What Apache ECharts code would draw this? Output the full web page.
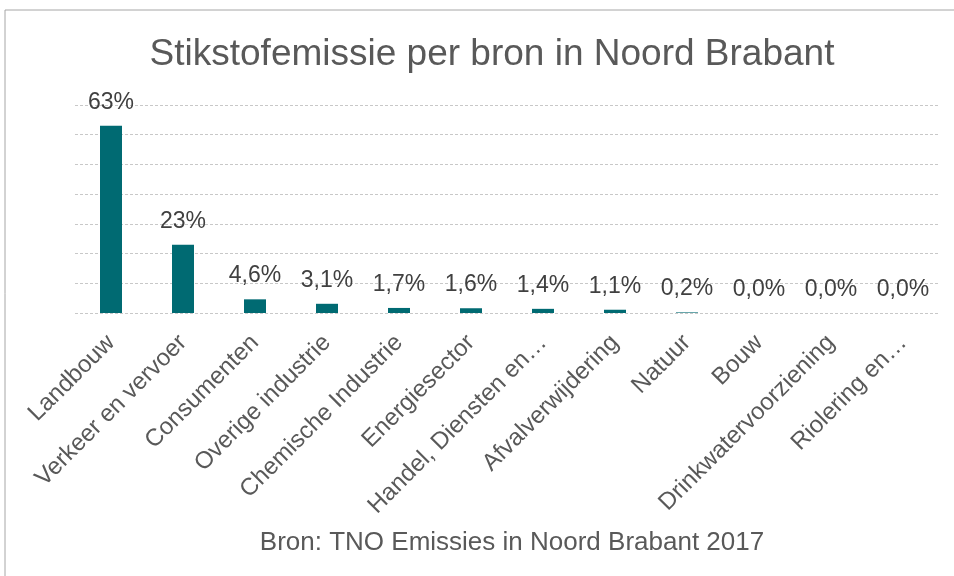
<!DOCTYPE html>
<html>
<head>
<meta charset="utf-8">
<script src="https://cdn.jsdelivr.net/npm/echarts@6/dist/echarts.min.js"></script>
<style>
  html, body { margin: 0; padding: 0; background: #fff; }
  #chart { width: 954px; height: 576px; }
</style>
</head>
<body>
<div id="chart"></div>
<script>
// bronnen en aandeel in de stikstofemissie (%)
const bronnen = ['Landbouw', 'Verkeer en vervoer', 'Consumenten', 'Overige industrie',
  'Chemische Industrie', 'Energiesector', 'Handel, Diensten en…', 'Afvalverwijdering',
  'Natuur', 'Bouw', 'Drinkwatervoorziening', 'Riolering en…']
const aandeel = [63, 23, 4.6, 3.1, 1.7, 1.6, 1.4, 1.1, 0.2, 0.0, 0.0, 0.0]

const fmt = v => v >= 10 ? Math.round(v) + '%' : v.toFixed(1).replace('.', ',') + '%'

const chart = echarts.init(document.getElementById('chart'))
const option = {
  animation: false,
  title: [
    {
      text: 'Stikstofemissie per bron in Noord Brabant',
      left: 487,
      textAlign: 'center',
      top: 31,
      textStyle: { fontFamily: 'Liberation Sans', fontSize: 37, fontWeight: 'normal', color: '#595959' }
    },
    {
      text: 'Bron: TNO Emissies in Noord Brabant 2017',
      left: 507,
      textAlign: 'center',
      top: 525,
      textStyle: { fontFamily: 'Liberation Sans', fontSize: 26, fontWeight: 'normal', color: '#595959' }
    }
  ],
  graphic: [
    {
      type: 'rect',
      shape: { x: 5, y: 10, width: 1000, height: 700 },
      style: { fill: 'none', stroke: '#a6a6a6', lineWidth: 1 },
      silent: true
    }
  ],
  grid: { left: 75, right: 15, top: 105, bottom: 263, containLabel: false },
  xAxis: {
    type: 'category',
    data: bronnen,
    axisLine: { show: false },
    axisTick: { show: false },
    axisLabel: {
      rotate: 45,
      interval: 0,
      margin: 26,
      fontFamily: 'Liberation Sans',
      fontSize: 24,
      color: '#595959'
    }
  },
  yAxis: {
    type: 'value',
    min: 0,
    max: 70,
    interval: 10,
    axisLabel: { show: false },
    axisLine: { show: false },
    axisTick: { show: false },
    splitLine: { lineStyle: { color: '#c8c8c8', type: [3, 2], width: 1 } }
  },
  series: [
    {
      type: 'bar',
      data: aandeel,
      barWidth: 22,
      itemStyle: { color: '#006a72' },
      label: {
        show: true,
        position: 'top',
        distance: 12,
        formatter: p => fmt(p.value),
        fontFamily: 'Liberation Sans',
        fontSize: 23,
        color: '#404040'
      }
    }
  ]
}
chart.setOption(option)
</script>
</body>
</html>
